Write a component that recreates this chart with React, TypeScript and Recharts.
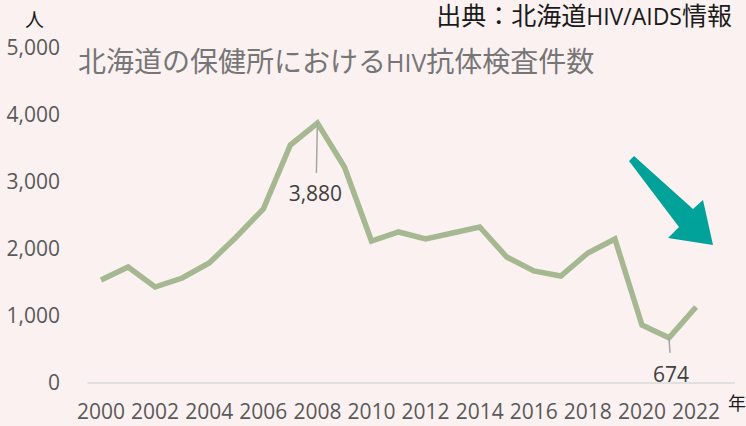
import React from 'react';
import { LineChart, Line, XAxis, YAxis } from 'recharts';

const years = [2000, 2001, 2002, 2003, 2004, 2005, 2006, 2007, 2008, 2009, 2010, 2011, 2012, 2013, 2014, 2015, 2016, 2017, 2018, 2019, 2020, 2021, 2022];
const tests = [1537, 1731, 1433, 1567, 1791, 2179, 2597, 3552, 3880, 3224, 2119, 2254, 2149, 2239, 2328, 1881, 1672, 1597, 1940, 2149, 866, 674, 1134];
const xTicks = [2000, 2002, 2004, 2006, 2008, 2010, 2012, 2014, 2016, 2018, 2020, 2022];
const yTicks = [0, 1000, 2000, 3000, 4000, 5000];
const annotated = [3880, 674];

const data = years.map((y, i) => ({ year: y, value: tests[i] }));

const FONT = '"Open Sans", "Noto Sans CJK JP", sans-serif';
const CJK = '"Noto Sans CJK JP", "Open Sans", sans-serif';

const renderLabel = (props: any) => {
  const { x, y, value, index } = props;
  if (!annotated.includes(value)) return null;
  const isPeak = value === 3880;
  const lineLen = isPeak ? 50 : 15;
  const textDy = isPeak ? 70 : 36;
  return (
    <g key={`lbl-${index}`}>
      <line x1={x} y1={y} x2={x + (isPeak ? -1 : 1)} y2={y + lineLen} stroke="#a6a6a6" strokeWidth={1.5} />
      <text x={x + (isPeak ? -2 : 2)} y={y + textDy} textAnchor="middle" dominantBaseline="central" fontFamily={FONT} fontSize={21} fill="#404040">
        {value.toLocaleString('en-US')}
      </text>
    </g>
  );
};

export default function App() {
  return (
    <div style={{ position: 'absolute', left: 0, top: 0, width: 746, height: 426, background: '#fcf1f1', overflow: 'hidden' }}>
      <LineChart width={746} height={426} data={data} margin={{ top: 48, right: 11, bottom: 0, left: 0 }}>
        <XAxis
          dataKey="year"
          type="number"
          domain={[1999.5, 2023.44]}
          ticks={xTicks}
          interval={0}
          height={43}
          tickLine={false}
          tickSize={0}
          tickMargin={21}
          axisLine={{ stroke: '#d9d9d9', strokeWidth: 1.5 }}
          tick={{ fontFamily: FONT, fontSize: 21, fill: '#595959' }}
        />
        <YAxis
          domain={[0, 5000]}
          ticks={yTicks}
          width={87.5}
          axisLine={false}
          tickLine={false}
          tickSize={0}
          tickMargin={27.5}
          tickFormatter={(v: number) => v.toLocaleString('en-US')}
          tick={{ fontFamily: FONT, fontSize: 21, fill: '#595959' }}
        />
        <Line
          type="linear"
          dataKey="value"
          stroke="#a6b891"
          strokeWidth={5.5}
          dot={false}
          isAnimationActive={false}
          label={renderLabel}
        />
      </LineChart>
      <svg width={746} height={426} style={{ position: 'absolute', left: 0, top: 0, pointerEvents: 'none' }}>
        <polygon points="629,161 634,156 693,209 703,200 713,245 668,238 679,227" fill="#00a29a" strokeLinejoin="round" />
      </svg>
      <div style={{ position: 'absolute', left: 25, top: 6, fontFamily: CJK, fontSize: 19, color: '#1a1a1a', lineHeight: '26px' }}>人</div>
      <div style={{ position: 'absolute', right: 14, top: 0, fontFamily: CJK, fontSize: 25, color: '#1a1a1a', lineHeight: '28px', whiteSpace: 'nowrap' }}>
        出典：北海道<span style={{ fontFamily: FONT, fontSize: 23 }}>HIV/AIDS</span>情報
      </div>
      <div style={{ position: 'absolute', left: 78, top: 42, fontFamily: CJK, fontSize: 28, color: '#767676', lineHeight: '36px', whiteSpace: 'nowrap' }}>
        北海道の保健所における<span style={{ fontFamily: FONT, fontSize: 25 }}>HIV</span>抗体検査件数
      </div>
      <div style={{ position: 'absolute', left: 728, top: 390, fontFamily: CJK, fontSize: 18, color: '#1a1a1a', lineHeight: '24px' }}>年</div>
    </div>
  );
}
